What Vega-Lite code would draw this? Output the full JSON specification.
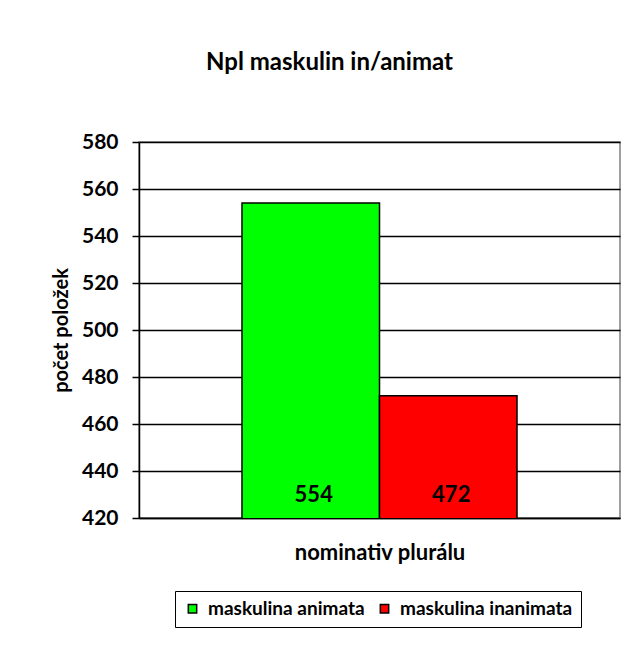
{
  "$schema": "https://vega.github.io/schema/vega-lite/v6.json",
  "width": 481,
  "height": 376,
  "autosize": {"type": "none"},
  "padding": {"left": 139, "top": 142, "right": 20, "bottom": 128},
  "background": "white",
  "title": {
    "text": "Npl maskulin in/animat",
    "anchor": "middle",
    "dx": -50,
    "fontSize": 24,
    "font": "Lato",
    "fontWeight": "bold",
    "color": "black",
    "offset": 56
  },
  "data": {
    "values": [
      {"kategorie": "nominativ plurálu", "rod": "maskulina animata", "pocet": 554},
      {"kategorie": "nominativ plurálu", "rod": "maskulina inanimata", "pocet": 472}
    ]
  },
  "encoding": {
    "x": {
      "field": "kategorie",
      "type": "nominal",
      "scale": {"paddingInner": 0, "paddingOuter": 0.3745},
      "axis": {
        "labels": false,
        "ticks": false,
        "title": "nominativ plurálu",
        "titleFont": "Lato",
        "titleFontSize": 22,
        "titleFontWeight": "bold",
        "titleColor": "black",
        "titlePadding": 24,
        "domainColor": "black",
        "domainWidth": 1.5
      }
    },
    "xOffset": {
      "field": "rod",
      "type": "nominal",
      "sort": ["maskulina animata", "maskulina inanimata"],
      "scale": {"paddingInner": 0, "paddingOuter": 0}
    },
    "y": {
      "field": "pocet",
      "type": "quantitative",
      "scale": {"domain": [420, 580], "zero": false, "nice": false},
      "axis": {
        "title": "počet položek",
        "titleFont": "Lato",
        "titleFontSize": 20,
        "titleFontWeight": "bold",
        "titleColor": "black",
        "titlePadding": 10,
        "values": [420, 440, 460, 480, 500, 520, 540, 560, 580],
        "labelFont": "Lato",
        "labelFontSize": 21,
        "labelFontWeight": "bold",
        "labelColor": "black",
        "labelPadding": 14,
        "tickColor": "black",
        "tickSize": 7,
        "tickWidth": 1.5,
        "domainColor": "black",
        "domainWidth": 1.5,
        "grid": true,
        "gridColor": "black",
        "gridWidth": 1.5
      }
    }
  },
  "layer": [
    {
      "mark": {"type": "bar", "stroke": "black", "strokeWidth": 1.5, "clip": true},
      "encoding": {
        "color": {
          "field": "rod",
          "type": "nominal",
          "scale": {"domain": ["maskulina animata", "maskulina inanimata"], "range": ["#00FF00", "#FF0000"]},
          "legend": {
            "orient": "none",
            "legendX": 36,
            "legendY": 449,
            "direction": "horizontal",
            "columns": 2,
            "title": null,
            "strokeColor": "black",
            "padding": 8,
            "symbolType": "square",
            "symbolSize": 70,
            "symbolStrokeColor": "black",
            "symbolStrokeWidth": 1.5,
            "symbolOpacity": 1,
            "labelFont": "Lato",
            "labelFontSize": 19,
            "labelFontWeight": "bold",
            "labelColor": "black",
            "labelOffset": 6,
            "labelLimit": 400,
            "columnPadding": 10
          }
        }
      }
    },
    {
      "mark": {"type": "text", "font": "Lato", "fontSize": 22, "fontWeight": "bold", "color": "black", "baseline": "alphabetic", "dy": -16, "dx": 3},
      "encoding": {
        "y": {"datum": 420},
        "text": {"field": "pocet", "type": "quantitative"}
      }
    }
  ],
  "config": {
    "view": {"stroke": "#808080", "strokeWidth": 1.5}
  }
}
